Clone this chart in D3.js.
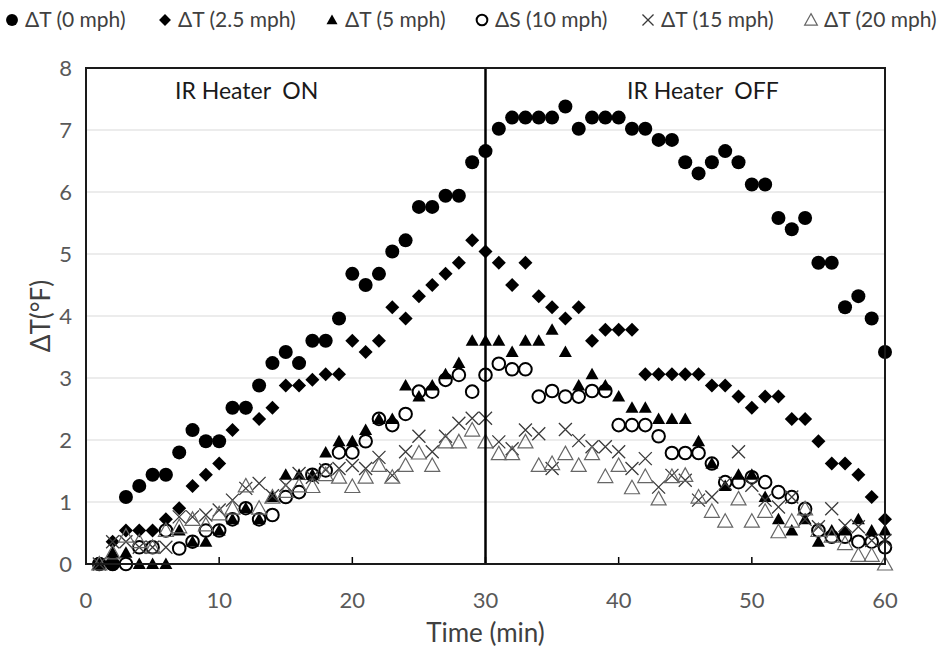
<!DOCTYPE html>
<html>
<head>
<meta charset="utf-8">
<script src="https://cdn.jsdelivr.net/npm/d3@7"></script>
<style>
  body { margin: 0; background: #fff; }
  text { font-family: "Lato", "Open Sans", sans-serif; }
</style>
</head>
<body>
<svg id="chart" width="950" height="650"></svg>
<script>
// time axis (min)
const minutes = [1, 2, 3, 4, 5, 6, 7, 8, 9, 10, 11, 12, 13, 14, 15, 16, 17, 18, 19, 20,
  21, 22, 23, 24, 25, 26, 27, 28, 29, 30, 31, 32, 33, 34, 35, 36, 37, 38, 39, 40,
  41, 42, 43, 44, 45, 46, 47, 48, 49, 50, 51, 52, 53, 54, 55, 56, 57, 58, 59, 60];

// temperature differences (°F)
const dT_0mph = [0, 0, 1.08, 1.26, 1.44, 1.44, 1.8, 2.16, 1.98, 1.98, 2.52, 2.52, 2.88, 3.24, 3.42, 3.24, 3.6, 3.6, 3.96, 4.68,
  4.5, 4.68, 5.04, 5.22, 5.76, 5.76, 5.94, 5.94, 6.48, 6.66, 7.02, 7.2, 7.2, 7.2, 7.2, 7.38, 7.02, 7.2, 7.2, 7.2,
  7.02, 7.02, 6.84, 6.84, 6.48, 6.3, 6.48, 6.66, 6.48, 6.12, 6.12, 5.58, 5.4, 5.58, 4.86, 4.86, 4.14, 4.32, 3.96, 3.42];
const dT_2_5mph = [0, 0.36, 0.54, 0.54, 0.54, 0.72, 0.9, 1.26, 1.44, 1.62, 2.16, 2.52, 2.34, 2.52, 2.88, 2.88, 2.97, 3.06, 3.06, 3.6,
  3.42, 3.6, 4.14, 3.96, 4.32, 4.5, 4.68, 4.86, 5.22, 5.04, 4.86, 4.5, 4.86, 4.32, 4.14, 3.96, 4.14, 3.6, 3.78, 3.78,
  3.78, 3.06, 3.06, 3.06, 3.06, 3.06, 2.88, 2.88, 2.7, 2.52, 2.7, 2.7, 2.34, 2.34, 1.98, 1.62, 1.62, 1.44, 1.08, 0.72];
const dT_5mph = [0, 0.18, 0.18, 0, 0, 0, 0.54, 0.36, 0.36, 0.54, 0.72, 0.9, 0.72, 1.08, 1.44, 1.44, 1.44, 1.8, 1.98, 1.98,
  2.16, 2.34, 2.34, 2.88, 2.7, 2.88, 3.06, 3.24, 3.6, 3.6, 3.6, 3.42, 3.6, 3.6, 3.78, 3.42, 2.88, 3.06, 2.88, 2.7,
  2.52, 2.52, 2.34, 2.34, 2.34, 1.98, 1.62, 1.26, 1.44, 1.44, 1.08, 0.72, 0.54, 0.72, 0.36, 0.54, 0.54, 0.72, 0.54, 0.54];
const dS_10mph = [0, 0, 0, 0.27, 0.27, 0.54, 0.25, 0.36, 0.54, 0.54, 0.72, 0.9, 0.72, 0.79, 1.08, 1.16, 1.44, 1.51, 1.8, 1.8,
  1.98, 2.34, 2.24, 2.42, 2.78, 2.78, 2.97, 3.05, 2.78, 3.05, 3.23, 3.14, 3.14, 2.7, 2.79, 2.7, 2.7, 2.79, 2.79, 2.24,
  2.24, 2.24, 2.06, 1.79, 1.79, 1.79, 1.62, 1.32, 1.32, 1.4, 1.32, 1.16, 1.08, 0.89, 0.54, 0.44, 0.44, 0.36, 0.36, 0.27];
const dT_15mph = [0, 0.36, 0.36, 0.27, 0.27, 0.27, 0.76, 0.76, 0.79, 0.87, 1.03, 1.22, 1.3, 1.1, 1.27, 1.46, 1.4, 1.52, 1.54, 1.59,
  1.54, 1.72, 1.43, 1.81, 2.06, 1.81, 2.06, 2.27, 2.35, 2.35, 1.97, 1.86, 2.16, 2.1, 1.54, 2.17, 1.99, 1.89, 1.89, 1.81,
  1.54, 1.7, 1.24, 1.43, 1.35, 1.03, 1.08, 1.3, 1.81, 1.27, 1.03, 0.92, 1.08, 0.72, 0.6, 0.89, 0.62, 0.6, 0.38, 0.38];
const dT_20mph = [0, 0.18, 0.45, 0.36, 0.27, 0.54, 0.6, 0.72, 0.63, 0.81, 0.9, 1.26, 0.9, 1.08, 1.17, 1.26, 1.25, 1.44, 1.4, 1.25,
  1.4, 1.59, 1.4, 1.59, 1.79, 1.59, 1.97, 1.97, 2.16, 1.97, 1.78, 1.78, 1.97, 1.59, 1.62, 1.78, 1.59, 1.78, 1.41, 1.59,
  1.23, 1.41, 1.05, 1.41, 1.43, 1.08, 0.85, 0.69, 1.05, 0.69, 0.85, 0.52, 0.69, 0.89, 0.54, 0.45, 0.33, 0.14, 0.14, 0];

const seriesNames = ["ΔT (0 mph)", "ΔT (2.5 mph)", "ΔT (5 mph)", "ΔS (10 mph)", "ΔT (15 mph)", "ΔT (20 mph)"];
const seriesValues = [dT_0mph, dT_2_5mph, dT_5mph, dS_10mph, dT_15mph, dT_20mph];
const markerTypes = ["circle", "diamond", "triangle", "ring", "cross", "openTriangle"];

const xTicks = [0, 10, 20, 30, 40, 50, 60];
const yTicks = [0, 1, 2, 3, 4, 5, 6, 7, 8];
const heaterSwitch = 30;

// layout
const margins = [68, 65, 86, 86]; // top, right, bottom, left
const width = 950, height = 650;
const legendX = [12, 165, 332, 482, 648, 811];
const legendY = 20;

const svg = d3.select("#chart");

const x = d3.scaleLinear().domain([0, 60]).range([margins[3], width - margins[1]]);
const y = d3.scaleLinear().domain([0, 8]).range([height - margins[2], margins[0]]);

function markerPath(type, s) {
  switch (type) {
    case "circle": return d3.symbol(d3.symbolCircle, Math.PI * 7 * 7 * s * s)();
    case "diamond": return `M0,${-7 * s}L${7 * s},0L0,${7 * s}L${-7 * s},0Z`;
    case "triangle": return `M0,${-6.5 * s}L${6.5 * s},${5 * s}L${-6.5 * s},${5 * s}Z`;
    case "ring": return d3.symbol(d3.symbolCircle, Math.PI * 6.3 * 6.3 * s * s)();
    case "cross": return `M${-6.5 * s},${-6.5 * s}L${6.5 * s},${6.5 * s}M${-6.5 * s},${6.5 * s}L${6.5 * s},${-6.5 * s}`;
    case "openTriangle": return `M0,${-7.5 * s}L${7.5 * s},${6 * s}L${-7.5 * s},${6 * s}Z`;
  }
}

function styleMarker(sel, type) {
  if (type === "circle" || type === "diamond" || type === "triangle") {
    sel.attr("fill", "#000").attr("stroke", "none");
  } else if (type === "ring") {
    sel.attr("fill", "none").attr("stroke", "#000").attr("stroke-width", 2);
  } else if (type === "cross") {
    sel.attr("fill", "none").attr("stroke", "#3a3a3a").attr("stroke-width", 1.3);
  } else {
    sel.attr("fill", "none").attr("stroke", "#666").attr("stroke-width", 1.2);
  }
}

// gridlines
svg.append("g")
  .selectAll("line")
  .data(yTicks.filter((d) => d > 0 && d < 8))
  .enter()
  .append("line")
  .attr("x1", x(0))
  .attr("x2", x(60))
  .attr("y1", (d) => y(d))
  .attr("y2", (d) => y(d))
  .attr("stroke", "#d9d9d9")
  .attr("stroke-width", 1);

// y tick labels
svg.append("g")
  .selectAll("text")
  .data(yTicks)
  .enter()
  .append("text")
  .attr("x", x(0) - 14)
  .attr("y", (d) => y(d))
  .attr("dy", "0.35em")
  .attr("text-anchor", "end")
  .attr("font-size", "22px")
  .attr("fill", "#595959")
  .text((d) => d);

// x tick labels + small inside ticks
svg.append("g")
  .selectAll("text")
  .data(xTicks)
  .enter()
  .append("text")
  .attr("x", (d) => x(d))
  .attr("y", y(0) + 44)
  .attr("text-anchor", "middle")
  .attr("font-size", "22px")
  .attr("fill", "#595959")
  .text((d) => d);

svg.append("g")
  .selectAll("line")
  .data(xTicks)
  .enter()
  .append("line")
  .attr("x1", (d) => x(d))
  .attr("x2", (d) => x(d))
  .attr("y1", y(0))
  .attr("y2", y(0) - 7)
  .attr("stroke", "#000")
  .attr("stroke-width", 1.5);

// markers, drawn series by series like the spreadsheet does
seriesValues.forEach((values, i) => {
  const type = markerTypes[i];
  const g = svg.append("g").attr("class", "series-" + i);
  g.selectAll("path")
    .data(values.map((v, j) => ({ t: minutes[j], v: v })))
    .enter()
    .append("path")
    .attr("d", markerPath(type, 1))
    .attr("transform", (d) => `translate(${x(d.t)},${y(d.v)})`)
    .call(styleMarker, type);
});

// heater switch line
svg.append("line")
  .attr("x1", x(heaterSwitch))
  .attr("x2", x(heaterSwitch))
  .attr("y1", y(8))
  .attr("y2", y(0))
  .attr("stroke", "#000")
  .attr("stroke-width", 2.5);

// plot frame
svg.append("rect")
  .attr("x", x(0))
  .attr("y", y(8))
  .attr("width", x(60) - x(0))
  .attr("height", y(0) - y(8))
  .attr("fill", "none")
  .attr("stroke", "#1a1a1a")
  .attr("stroke-width", 2);

// annotations
svg.append("text")
  .attr("x", 175)
  .attr("y", 99)
  .attr("font-family", "Liberation Sans, Arial, sans-serif")
  .attr("font-size", "23px")
  .attr("fill", "#1a1a1a")
  .style("white-space", "pre")
  .text("IR Heater  ON");

svg.append("text")
  .attr("x", 627)
  .attr("y", 99)
  .attr("font-family", "Liberation Sans, Arial, sans-serif")
  .attr("font-size", "23px")
  .attr("fill", "#1a1a1a")
  .style("white-space", "pre")
  .text("IR Heater  OFF");

// axis titles
svg.append("text")
  .attr("x", (x(0) + x(60)) / 2)
  .attr("y", 642)
  .attr("text-anchor", "middle")
  .attr("font-size", "26px")
  .attr("fill", "#404040")
  .text("Time (min)");

svg.append("text")
  .attr("transform", `translate(50,${(y(0) + y(8)) / 2}) rotate(-90)`)
  .attr("text-anchor", "middle")
  .attr("font-size", "26px")
  .attr("fill", "#404040")
  .text("ΔT(°F)");

// legend
const legend = svg.append("g");
seriesNames.forEach((name, i) => {
  const type = markerTypes[i];
  legend.append("path")
    .attr("d", markerPath(type, 0.85))
    .attr("transform", `translate(${legendX[i]},${legendY})`)
    .call(styleMarker, type);
  legend.append("text")
    .attr("x", legendX[i] + 13)
    .attr("y", legendY)
    .attr("dy", "0.35em")
    .attr("font-size", "21px")
    .attr("fill", "#404040")
    .text(name);
});
</script>
</body>
</html>
